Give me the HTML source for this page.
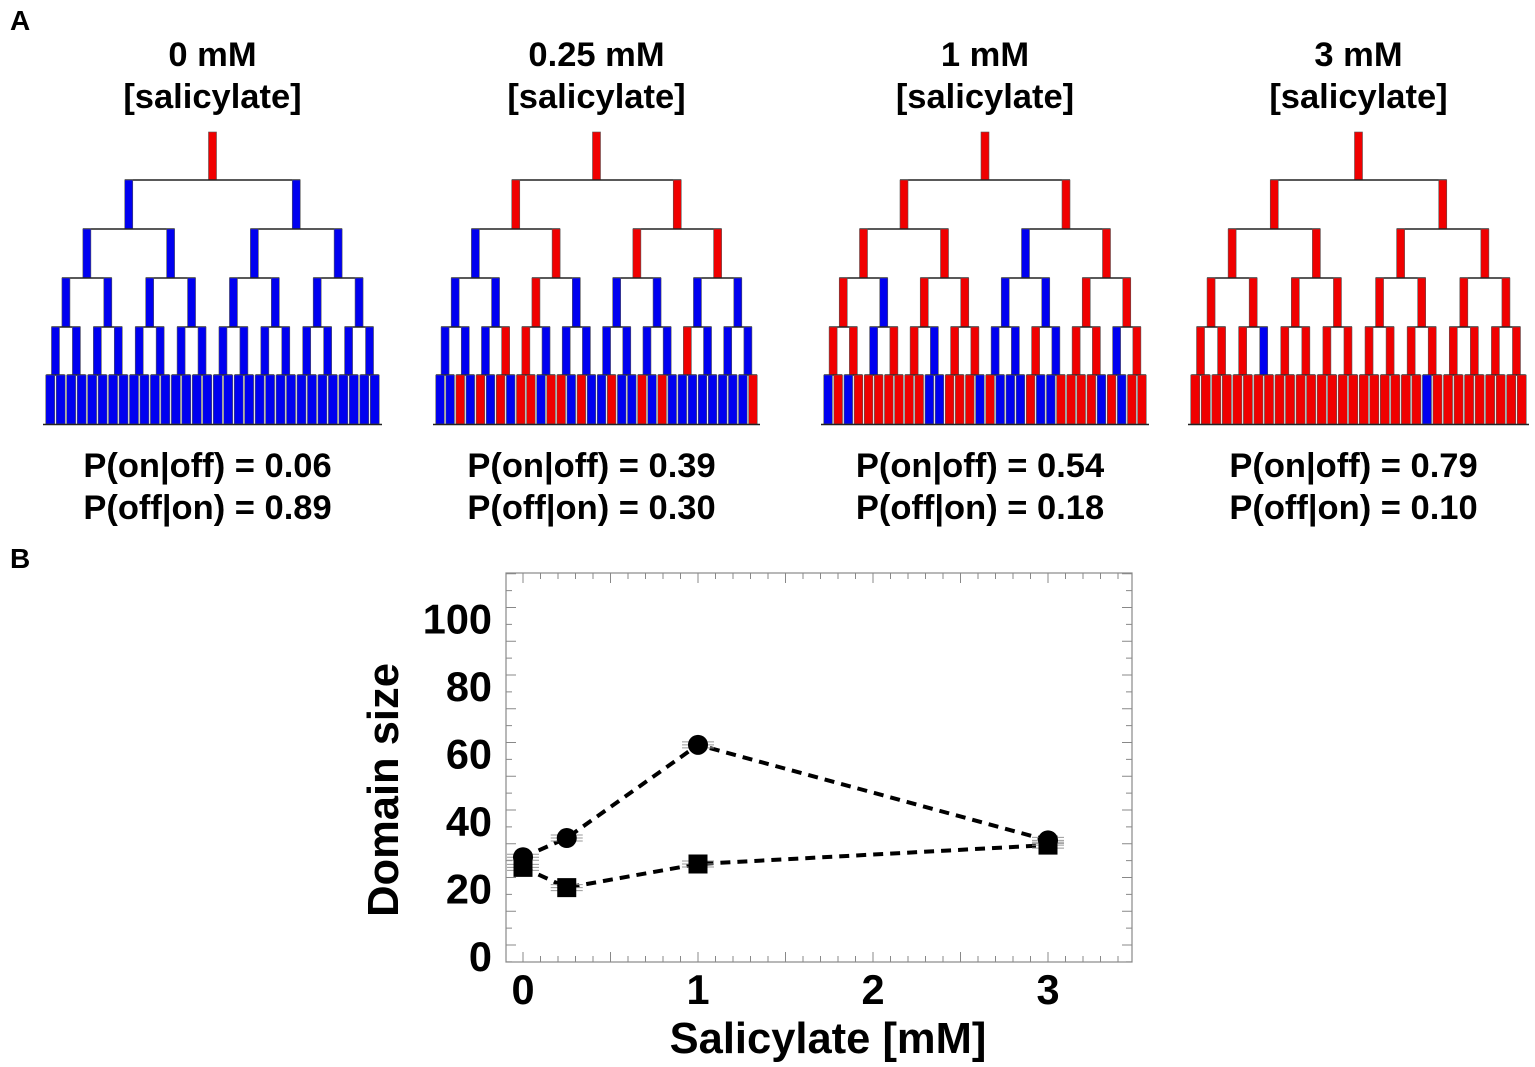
<!DOCTYPE html>
<html><head><meta charset="utf-8">
<style>
html,body{margin:0;padding:0;background:#fff;}
svg{display:block;font-family:"Liberation Sans",Arial,sans-serif;}
</style></head>
<body>
<svg id="fig" width="1535" height="1067" viewBox="0 0 1535 1067">
<text x="10" y="30" font-size="28" font-weight="bold">A</text>
<text x="10" y="568" font-size="28" font-weight="bold">B</text>
<g id="trees"></g>
<g id="chart"></g>
</svg>
<script>
// ---- Panel A data ----
const treeTitles = ["0 mM","0.25 mM","1 mM","3 mM"];
const pOnOff = ["0.06","0.39","0.54","0.79"];
const pOffOn = ["0.89","0.30","0.18","0.10"];
// colour strings per level: R = on (red), B = off (blue)
const treeColors = [
 ["R","BB","BBBB","BBBBBBBB","BBBBBBBBBBBBBBBB","BBBBBBBBBBBBBBBBBBBBBBBBBBBBBBBB"],
 ["R","RR","BRRR","BBRBBBBB","BBBRRBBBBBBBRBBB","BBRBRBRBRRBRRBRBBRBBRBRBBBBBBBBR"],
 ["R","RR","RRBR","RBRRBBRR","RRBRRBRRBBRBRRBR","BRBRRRRRRRBBRRRBRBBBRBBRRRRBRBRR"],
 ["R","RR","RRRR","RRRRRRRR","RRRBRRRRRRRRRRRR","RRRRRRRRRRRRRRRRRRRRRRBRRRRRRRRR"]
];
const NS="http://www.w3.org/2000/svg";
function mk(tag,attrs,parent){const e=document.createElementNS(NS,tag);for(const k in attrs)e.setAttribute(k,attrs[k]);parent.appendChild(e);return e;}
const treeLeft=[45,435,823,1190], treeRight=[380,758,1147,1527];
const rowTop=[132,180,229,278,327,375], rowBot=[180,229,278,327,375,424];
const tg=document.getElementById('trees');
treeColors.forEach((levels,t)=>{
  const g=mk('g',{},tg);
  
  
  const L=treeLeft[t],W=treeRight[t]-L,cx=L+W/2;
  const title1=mk('text',{x:cx,y:66,'font-size':34.5,'font-weight':'bold','text-anchor':'middle'},g);
  title1.textContent=treeTitles[t];
  
  
  const title2=mk('text',{x:cx,y:108,'font-size':34.5,'font-weight':'bold','text-anchor':'middle'},g);
  title2.textContent="[salicylate]";
  
  
  const unit=W/32;
  levels.forEach((s,lv)=>{
    const n=s.length, span=W/n;
    const bw = lv===5 ? unit-1.5 : 8;
    for(let i=0;i<n;i++){
      const c=L+span*(i+0.5);
      const r=mk('rect',{x:c-bw/2,y:rowTop[lv],width:bw,height:rowBot[lv]-rowTop[lv],fill:s[i]==='R'?'#f00000':'#0000f0',stroke:'#555','stroke-width':0.6},g);
      
      
      if(lv<5){
        const cs=W/(n*2);
        const x1=c-cs/2, x2=c+cs/2;
        const hl=mk('line',{x1:x1-4,x2:x2+4,y1:rowBot[lv],y2:rowBot[lv],stroke:'#222','stroke-width':1.5},g);
        
        
      }
    }
  });
  mk('line',{x1:L-2,x2:L+W+2,y1:424.5,y2:424.5,stroke:'#222','stroke-width':1.5},g);
  const p1=mk('text',{x:cx-5,y:477,'font-size':34.5,'font-weight':'bold','text-anchor':'middle'},g);
  p1.textContent="P(on|off) = "+pOnOff[t];
  
  
  const p2=mk('text',{x:cx-5,y:519,'font-size':34.5,'font-weight':'bold','text-anchor':'middle'},g);
  p2.textContent="P(off|on) = "+pOffOn[t];
  
  
});

// ---- Panel B data ----
const xVals=[0,0.25,1,3];
const circleVals=[26,31.7,59.3,31];
const squareVals=[23,17,24,29.6];
const yTicks=[0,20,40,60,80,100];
const xTicks=[0,1,2,3];
const cg=document.getElementById('chart');
const X0=523,XS=175,Y0=945,YS=3.375;
const sx=v=>X0+v*XS, sy=v=>Y0-v*YS;
const pl=506,pr=1132,pt=573,pb=962;
mk('rect',{x:pl,y:pt,width:pr-pl,height:pb-pt,fill:'none',stroke:'#888','stroke-width':1.2},cg);
for(let k=-1;k<=35;k++){const v=k/10;const x=sx(v);if(x<=pl||x>=pr)continue;const len=(k%5===0)?10:6;
  mk('line',{x1:x,x2:x,y1:pb,y2:pb-len,stroke:'#888','stroke-width':1},cg);
  mk('line',{x1:x,x2:x,y1:pt,y2:pt+len,stroke:'#888','stroke-width':1},cg);}
for(let v=-5;v<=110;v+=5){const y=sy(v);if(y>=pb||y<=pt)continue;const len=(v%10===0)?10:6;
  mk('line',{x1:pl,x2:pl+len,y1:y,y2:y,stroke:'#888','stroke-width':1},cg);
  mk('line',{x1:pr,x2:pr-len,y1:y,y2:y,stroke:'#888','stroke-width':1},cg);}
yTicks.forEach(v=>{const t=mk('text',{x:492,y:sy(v)+26,'font-size':41.5,'font-weight':'bold','text-anchor':'end'},cg);t.textContent=v;
  
  });
xTicks.forEach(v=>{const t=mk('text',{x:sx(v),y:1004,'font-size':41.5,'font-weight':'bold','text-anchor':'middle'},cg);t.textContent=v;
  
  });
const xt=mk('text',{x:828,y:1053,'font-size':43.5,'font-weight':'bold','text-anchor':'middle'},cg);xt.textContent="Salicylate [mM]";


const yt=mk('text',{x:0,y:0,'font-size':43.5,'font-weight':'bold','text-anchor':'middle',transform:'translate(398,790) rotate(-90)'},cg);yt.textContent="Domain size";


function series(vals,shape,name){
  const g=mk('g',{},cg);
  
  
  const pts=xVals.map((x,i)=>sx(x)+','+sy(vals[i])).join(' ');
  mk('polyline',{points:pts,fill:'none',stroke:'#000','stroke-width':4,'stroke-dasharray':'10,7'},g);
  xVals.forEach((x,i)=>{const cx=sx(x),cy=sy(vals[i]);
    [-3,0,3].forEach(d=>mk('line',{x1:cx-16,x2:cx+16,y1:cy+d,y2:cy+d,stroke:'#999','stroke-width':1},g));
    let m;
    if(shape==='c') m=mk('circle',{cx:cx,cy:cy,r:10,fill:'#000'},g);
    else m=mk('rect',{x:cx-9.5,y:cy-9.5,width:19,height:19,fill:'#000'},g);
    
    
  });
}
series(squareVals,'s','square-series');
series(circleVals,'c','circle-series');
</script>
</body></html>
